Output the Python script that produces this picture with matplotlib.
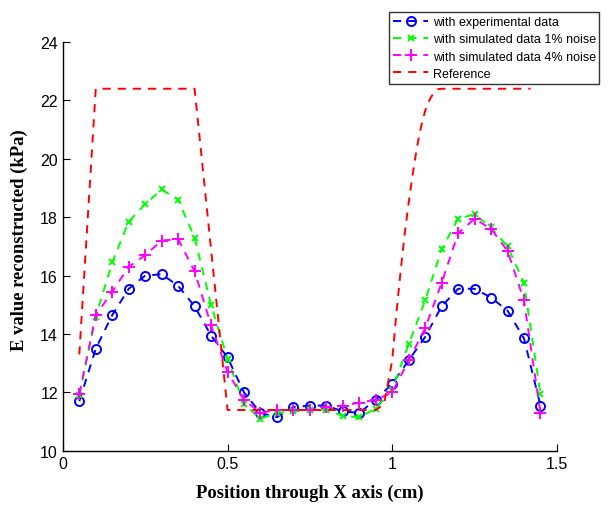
import matplotlib
matplotlib.use("Agg")
import matplotlib.pyplot as plt

# positions along x (cm) for the reconstructed profiles
x_pos = [0.05, 0.10, 0.15, 0.20, 0.25, 0.30, 0.35, 0.40, 0.45, 0.50,
         0.55, 0.60, 0.65, 0.70, 0.75, 0.80, 0.85, 0.90, 0.95, 1.00,
         1.05, 1.10, 1.15, 1.20, 1.25, 1.30, 1.35, 1.40, 1.45]

e_experimental = [11.7, 13.5, 14.65, 15.55, 16.0, 16.05, 15.65, 14.95, 13.95, 13.2,
                  12.0, 11.3, 11.15, 11.5, 11.55, 11.55, 11.35, 11.3, 11.75, 12.3,
                  13.1, 13.9, 14.95, 15.55, 15.55, 15.25, 14.8, 13.85, 11.55]

e_noise1 = [11.9, 14.6, 16.45, 17.85, 18.45, 18.95, 18.6, 17.3, 15.0, 13.15,
            11.6, 11.1, 11.3, 11.35, 11.4, 11.4, 11.2, 11.15, 11.45, 12.1,
            13.65, 15.15, 16.9, 17.95, 18.1, 17.65, 17.0, 15.75, 11.95]

e_noise4 = [11.95, 14.65, 15.45, 16.3, 16.7, 17.2, 17.25, 16.15, 14.3, 12.7,
            11.75, 11.3, 11.4, 11.4, 11.4, 11.5, 11.55, 11.65, 11.75, 12.0,
            13.1, 14.2, 15.75, 17.45, 17.95, 17.6, 16.85, 15.15, 11.3]

# reference profile
x_ref = [0.05, 0.10, 0.40, 0.50, 0.95, 0.975, 1.0, 1.0125, 1.025, 1.0375,
         1.05, 1.0625, 1.075, 1.0875, 1.10, 1.1125, 1.125, 1.1375, 1.15, 1.42]
e_ref = [13.3, 22.4, 22.4, 11.4, 11.4, 11.6, 13.1, 14.7, 16.1, 17.4,
         18.5, 19.5, 20.4, 21.1, 21.65, 22.0, 22.25, 22.38, 22.4, 22.4]

x_ticks = [0, 0.5, 1, 1.5]
x_ticklabels = ["0", "0.5", "1", "1.5"]
y_ticks = [10, 12, 14, 16, 18, 20, 22, 24]

plt.rcParams["font.family"] = ["Liberation Sans", "DejaVu Sans"]

fig = plt.figure(figsize=(6.1, 5.06), dpi=100)
ax = fig.add_axes([0.103, 0.107, 0.81, 0.808])

dash = (0, (4.2, 3.6))
ax.plot(x_pos, e_experimental, color="#0000ff", linestyle=dash, lw=1.4,
        marker="o", ms=6.5, mfc="none", mew=1.4, label="with experimental data")
ax.plot(x_pos, e_noise1, color="#00ff00", linestyle=dash, lw=1.4,
        marker="x", ms=5, mew=1.4, label="with simulated data 1% noise")
ax.plot(x_pos, e_noise4, color="#ff00ff", linestyle=dash, lw=1.4,
        marker="+", ms=8, mew=1.4, label="with simulated data 4% noise")
ax.plot(x_ref, e_ref, color="#ff0000", linestyle=dash, lw=1.4, label="Reference")

ax.set_xlim(0, 1.5)
ax.set_ylim(10, 24)
ax.set_xticks(x_ticks)
ax.set_xticklabels(x_ticklabels)
ax.set_yticks(y_ticks)
ax.tick_params(direction="in", length=5, labelsize=11.5, width=0.8)
ax.spines["top"].set_visible(False)
ax.spines["right"].set_visible(False)
for s in ["left", "bottom"]:
    ax.spines[s].set_linewidth(1.0)

ax.set_xlabel("Position through X axis (cm)", family="Liberation Serif",
              fontweight="bold", fontsize=13.4, labelpad=9)
ax.set_ylabel("E value reconstructed (kPa)", family="Liberation Serif",
              fontweight="bold", fontsize=13.4)
ax.yaxis.set_label_coords(-0.07, 0.518)

leg = fig.legend(loc="upper right", bbox_to_anchor=(0.993, 0.986), fontsize=9,
                 frameon=True, fancybox=False, handlelength=2.8,
                 borderpad=0.3, labelspacing=0.42, handletextpad=0.35)
leg.get_frame().set_edgecolor("black")
leg.get_frame().set_linewidth(1.0)

fig.savefig("out.png", dpi=100)
